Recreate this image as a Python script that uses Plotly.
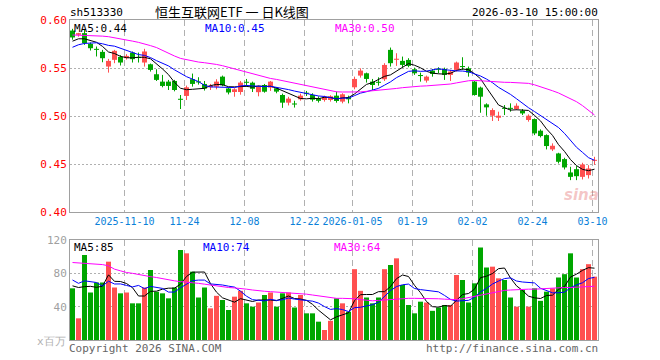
import numpy as np
import pandas as pd
import plotly.graph_objects as go

# ---------------- data ----------------
holidays = ["2026-01-01", "2026-01-02", "2026-02-16", "2026-02-17", "2026-02-18",
            "2026-02-19", "2026-02-20", "2026-02-23"]
dates = [d.strftime("%Y-%m-%d") for d in pd.bdate_range("2025-10-28", "2026-03-10")
         if d.strftime("%Y-%m-%d") not in holidays]

tick_dates = ["2025-11-10", "2025-11-24", "2025-12-08", "2025-12-22", "2026-01-05",
              "2026-01-19", "2026-02-02", "2026-02-24", "2026-03-10"]
tick_labels = ["2025-11-10", "11-24", "12-08", "12-22", "2026-01-05",
               "01-19", "02-02", "02-24", "03-10"]

open_ = [0.5890, 0.5846, 0.5863, 0.5752, 0.5694, 0.5668, 0.5515, 0.5585, 0.5616, 0.5602,
         0.5661, 0.5609, 0.5557, 0.5539, 0.5435, 0.5358, 0.5358, 0.5365, 0.5174, 0.5209,
         0.5383, 0.5360, 0.5334, 0.5299, 0.5306, 0.5410, 0.5287, 0.5250, 0.5250, 0.5351,
         0.5347, 0.5248, 0.5323, 0.5296, 0.5289, 0.5219, 0.5139, 0.5125, 0.5174, 0.5237,
         0.5219, 0.5184, 0.5167, 0.5167, 0.5212, 0.5150, 0.5195, 0.5299, 0.5421, 0.5445,
         0.5358, 0.5351, 0.5383, 0.5689, 0.5588, 0.5574, 0.5584, 0.5487, 0.5425, 0.5369,
         0.5473, 0.5487, 0.5490, 0.5428, 0.5480, 0.5518, 0.5497, 0.5358, 0.5296, 0.5121,
         0.5003, 0.4982, 0.5083, 0.5083, 0.5073, 0.5055, 0.4958, 0.4968, 0.4847, 0.4801,
         0.4652, 0.4610, 0.4551, 0.4412, 0.4446, 0.4366, 0.4384, 0.4533]
high = [0.5908, 0.5866, 0.5898, 0.5766, 0.5724, 0.5689, 0.5595, 0.5689, 0.5634, 0.5644,
        0.5672, 0.5661, 0.5700, 0.5546, 0.5487, 0.5428, 0.5376, 0.5376, 0.5219, 0.5317,
        0.5442, 0.5404, 0.5365, 0.5334, 0.5383, 0.5421, 0.5292, 0.5289, 0.5365, 0.5386,
        0.5358, 0.5316, 0.5334, 0.5365, 0.5299, 0.5233, 0.5200, 0.5159, 0.5233, 0.5261,
        0.5237, 0.5205, 0.5212, 0.5216, 0.5254, 0.5237, 0.5212, 0.5410, 0.5497, 0.5452,
        0.5386, 0.5403, 0.5550, 0.5713, 0.5654, 0.5619, 0.5602, 0.5504, 0.5452, 0.5421,
        0.5490, 0.5508, 0.5504, 0.5480, 0.5567, 0.5612, 0.5515, 0.5365, 0.5306, 0.5132,
        0.5080, 0.5045, 0.5114, 0.5132, 0.5132, 0.5073, 0.5017, 0.4975, 0.4861, 0.4809,
        0.4715, 0.4617, 0.4565, 0.4471, 0.4478, 0.4513, 0.4488, 0.4575]
low = [0.5795, 0.5826, 0.5741, 0.5682, 0.5620, 0.5560, 0.5452, 0.5550, 0.5526, 0.5588,
       0.5557, 0.5557, 0.5515, 0.5463, 0.5365, 0.5299, 0.5271, 0.5257, 0.5073, 0.5167,
       0.5306, 0.5327, 0.5265, 0.5271, 0.5278, 0.5310, 0.5225, 0.5201, 0.5222, 0.5305,
       0.5250, 0.5205, 0.5243, 0.5261, 0.5237, 0.5085, 0.5110, 0.5088, 0.5160, 0.5208,
       0.5150, 0.5140, 0.5150, 0.5150, 0.5139, 0.5132, 0.5132, 0.5278, 0.5400, 0.5348,
       0.5271, 0.5316, 0.5365, 0.5515, 0.5522, 0.5508, 0.5508, 0.5428, 0.5358, 0.5348,
       0.5410, 0.5445, 0.5376, 0.5365, 0.5463, 0.5480, 0.5410, 0.5212, 0.5034, 0.5003,
       0.4948, 0.4948, 0.5010, 0.5045, 0.5062, 0.5010, 0.4941, 0.4801, 0.4777, 0.4652,
       0.4635, 0.4506, 0.4443, 0.4332, 0.4332, 0.4339, 0.4349, 0.4492]
close = [0.5818, 0.5863, 0.5759, 0.5706, 0.5694, 0.5602, 0.5574, 0.5679, 0.5557, 0.5626,
         0.5592, 0.5609, 0.5672, 0.5480, 0.5376, 0.5313, 0.5313, 0.5271, 0.5174, 0.5299,
         0.5334, 0.5350, 0.5285, 0.5317, 0.5358, 0.5320, 0.5245, 0.5278, 0.5348, 0.5351,
         0.5283, 0.5305, 0.5253, 0.5358, 0.5254, 0.5139, 0.5181, 0.5125, 0.5212, 0.5237,
         0.5170, 0.5158, 0.5198, 0.5205, 0.5156, 0.5226, 0.5174, 0.5386, 0.5473, 0.5386,
         0.5323, 0.5351, 0.5532, 0.5550, 0.5594, 0.5532, 0.5522, 0.5445, 0.5418, 0.5410,
         0.5438, 0.5487, 0.5428, 0.5463, 0.5557, 0.5512, 0.5452, 0.5219, 0.5201, 0.5090,
         0.5062, 0.5003, 0.5076, 0.5076, 0.5107, 0.5027, 0.5003, 0.4819, 0.4791, 0.4687,
         0.4690, 0.4523, 0.4464, 0.4366, 0.4373, 0.4495, 0.4453, 0.4543]
# closes of the 9 sessions before the window (estimated from the MA lines)
close_before = [0.560, 0.562, 0.565, 0.568, 0.571, 0.574, 0.576, 0.578, 0.580]

# 30-day price moving average
ma30_price = [0.5844, 0.5843, 0.5841, 0.5840, 0.5838, 0.5832, 0.5826, 0.5816, 0.5804, 0.5792,
              0.5780, 0.5767, 0.5752, 0.5733, 0.5713, 0.5682, 0.5650, 0.5625, 0.5600, 0.5585,
              0.5575, 0.5562, 0.5555, 0.5548, 0.5537, 0.5524, 0.5507, 0.5492, 0.5477, 0.5455,
              0.5437, 0.5420, 0.5405, 0.5391, 0.5381, 0.5368, 0.5351, 0.5339, 0.5328, 0.5313,
              0.5299, 0.5284, 0.5271, 0.5260, 0.5252, 0.5250, 0.5248, 0.5248, 0.5251, 0.5257,
              0.5262, 0.5268, 0.5274, 0.5281, 0.5287, 0.5295, 0.5302, 0.5308, 0.5311, 0.5314,
              0.5317, 0.5322, 0.5327, 0.5333, 0.5345, 0.5357, 0.5367, 0.5371, 0.5366, 0.5361,
              0.5355, 0.5353, 0.5351, 0.5350, 0.5348, 0.5346, 0.5340, 0.5325, 0.5307, 0.5286,
              0.5263, 0.5240, 0.5208, 0.5174, 0.5149, 0.5108, 0.5058, 0.5010]

volume = [62, 26, 102, 57, 69, 69, 94, 63, 56, 57, 44, 44, 63, 84, 58, 56, 50, 63, 108, 104,
          82, 51, 63, 38, 53, 48, 36, 52, 59, 44, 40, 45, 54, 57, 40, 56, 57, 39, 54, 32,
          32, 22, 12, 23, 50, 44, 34, 85, 59, 51, 44, 51, 85, 90, 98, 66, 42, 32, 46, 45,
          35, 39, 42, 42, 78, 72, 45, 68, 111, 87, 88, 74, 72, 51, 40, 60, 40, 62, 47, 58,
          62, 75, 79, 104, 75, 85, 91, 76]
volume_before = [66, 72, 67, 79, 111, 36, 97, 55, 75]
ma30_volume = [93, 92.5, 92, 91.5, 91, 90.5, 89, 85, 83, 81, 80, 78.5, 77.5, 76, 75, 73.5,
               72, 71, 70, 69.5, 69, 68, 67, 66, 64.5, 64, 63, 62.5, 62, 61, 60, 59, 58.5,
               58, 57.5, 57, 56.5, 56, 56, 55, 54, 53, 52, 51, 50, 50, 50, 49.5, 48.5, 47.5,
               47, 47.5, 48, 48.5, 49.5, 50, 50, 50, 50, 50, 50, 49.5, 49, 48.5, 48.5, 49.5,
               51, 52.5, 54, 55.5, 57, 58.5, 59.5, 60, 60.5, 61, 61, 61, 61.5, 62, 62, 62.5,
               63, 63, 63.5, 64, 64.5, 64.5]

# ---------------- derived ----------------
o = np.array(open_); h = np.array(high); l = np.array(low); c = np.array(close)
v = np.array(volume, dtype=float)
x = np.arange(len(dates))
RED, GREEN = "#ff5050", "#00a600"
colors = np.where(c > o, RED, GREEN)


def moving_avg(series, before, n):
    full = np.concatenate([np.array(before, dtype=float), series])
    k = len(before)
    return np.array([full[i + k - n + 1:i + k + 1].mean() for i in range(len(series))])


ma5_p = moving_avg(c, close_before, 5)
ma10_p = moving_avg(c, close_before, 10)
ma5_v = moving_avg(v, volume_before, 5)
ma10_v = moving_avg(v, volume_before, 10)

body_h = np.maximum(np.abs(c - o), 0.0011)
body_base = (o + c) / 2 - body_h / 2

fig = go.Figure()
# wicks
fig.add_trace(go.Bar(x=x, y=h - l, base=l, width=0.17, marker_color=colors,
                     marker_line_width=0, hoverinfo="skip"))
# bodies
fig.add_trace(go.Bar(x=x, y=body_h, base=body_base, width=0.8333, marker_color=colors,
                     marker_line_width=0, hoverinfo="skip"))
for yv, col in [(ma5_p, "#000000"), (ma10_p, "#0000ff"), (ma30_price, "#ff00ff")]:
    fig.add_trace(go.Scatter(x=x, y=yv, mode="lines", line=dict(color=col, width=1),
                             hoverinfo="skip"))
# volume
fig.add_trace(go.Bar(x=x, y=v, width=0.8333, marker_color=colors, marker_line_width=0,
                     xaxis="x2", yaxis="y2", hoverinfo="skip"))
for yv, col in [(ma5_v, "#000000"), (ma10_v, "#0000ff"), (ma30_volume, "#ff00ff")]:
    fig.add_trace(go.Scatter(x=x, y=yv, mode="lines", line=dict(color=col, width=1),
                             xaxis="x2", yaxis="y2", hoverinfo="skip"))

MONO = "DejaVu Sans Mono"
tickpos = [dates.index(d) - 1 / 3 for d in tick_dates]
xr = [-0.41667, len(dates) - 0.41667]
axis_line = dict(showline=True, mirror=True, linecolor="#a0a0a0", linewidth=1,
                 zeroline=False, ticks="")

fig.update_layout(
    width=660, height=360,
    margin=dict(l=70, r=62, t=20, b=20),
    paper_bgcolor="white", plot_bgcolor="white",
    showlegend=False, barmode="overlay", hovermode=False,
    xaxis=dict(domain=[0, 1], anchor="y", range=xr, tickmode="array", tickvals=tickpos,
               ticktext=tick_labels, tickfont=dict(family=MONO, size=10, color="#0a7fd9"),
               showgrid=True, gridcolor="#b0b0b0", griddash="6px,4px", gridwidth=1,
               **axis_line),
    yaxis=dict(domain=[0.4, 1], anchor="x", range=[0.40, 0.60], tickmode="array",
               tickvals=[0.40, 0.45, 0.50, 0.55, 0.60],
               ticktext=["0.40", "0.45", "0.50", "0.55", "0.60"],
               tickfont=dict(family=MONO, size=11, color="#ff0000"),
               showgrid=True, gridcolor="#b0b0b0", griddash="2px,2px", **axis_line),
    xaxis2=dict(domain=[0, 1], anchor="y2", range=xr, matches="x", tickmode="array",
                tickvals=tickpos, showticklabels=False, showgrid=True, gridcolor="#b0b0b0",
                griddash="6px,4px", **axis_line),
    yaxis2=dict(domain=[0, 0.3125], anchor="x2", range=[0, 120], tickmode="array",
                tickvals=[40, 80, 120], ticktext=["40", "80", "120"],
                tickfont=dict(family=MONO, size=11, color="#a0a0a0"),
                showgrid=True, gridcolor="#b0b0b0", griddash="2px,2px", **axis_line),
)


def ann(text, px, py, color, size=10, xanchor="left", family=MONO):
    fig.add_annotation(text=text, xref="paper", yref="paper",
                       x=(px - 70) / 528, y=(340 - py) / 320, xanchor=xanchor,
                       yanchor="middle", showarrow=False,
                       font=dict(family=family, size=size, color=color))


ann("sh513330", 68, 12, "#000000", 11)
ann("恒生互联网ETF 一 日K线图", 232, 11, "#000000", 13, "center", "Noto Sans CJK SC")
ann("2026-03-10 15:00:00", 600, 12, "#000000", 11, "right")
ann("MA5:0.44", 72, 28, "#000000", 11)
ann("MA10:0.45", 203, 28, "#0000ff", 11)
ann("MA30:0.50", 333, 28, "#ff00ff", 11)
ann("MA5:85", 72, 247, "#000000", 11)
ann("MA10:74", 201, 247, "#0000ff", 11)
ann("MA30:64", 332, 247, "#ff00ff", 11)
ann("x百万", 68, 341, "#b0b0b0", 11, "right")
ann("Copyright 2026 SINA.COM", 67, 348, "#666666", 11)
ann("http://finance.sina.com.cn", 600, 348, "#666666", 11, "right")
ann("<i><b>sina</b></i>", 581, 195, "rgba(225,90,90,0.35)", 15, "center", "DejaVu Sans")

fig.write_html("out.html", config={"displayModeBar": False, "staticPlot": True},
               post_script="document.body.style.margin='0';")
